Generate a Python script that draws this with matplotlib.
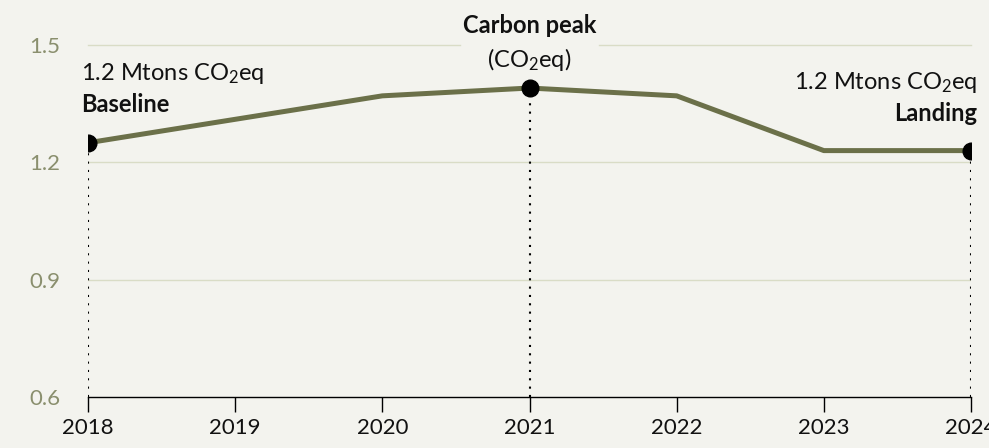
import matplotlib.pyplot as plt
from matplotlib import rcParams

years = [2018, 2019, 2020, 2021, 2022, 2023, 2024]
emissions = [1.25, 1.31, 1.37, 1.39, 1.37, 1.23, 1.23]
marked_years = [2018, 2021, 2024]
y_ticks = [0.6, 0.9, 1.2, 1.5]

BG = "#f3f3ee"
LINE = "#6b7049"
GRID = "#d9dcc6"
YLAB = "#8a8f6e"
INK = "#111111"

rcParams["font.family"] = ["Lato", "DejaVu Sans"]
rcParams["mathtext.fontset"] = "custom"
rcParams["mathtext.rm"] = "Lato"
rcParams["mathtext.it"] = "Lato:italic"
rcParams["mathtext.bf"] = "Lato:bold"


def main():
    fig = plt.figure(figsize=(9.89, 4.48), dpi=100, facecolor=BG)
    ax = fig.add_axes([88 / 989, 51 / 448, 883 / 989, 352 / 448])
    ax.set_facecolor(BG)

    ax.plot(years, emissions, color=LINE, linewidth=3.6, solid_capstyle="butt", zorder=3)

    # dotted drop lines and markers for the key years
    for yr in marked_years:
        val = emissions[years.index(yr)]
        ax.plot([yr, yr], [0.6, val], color="black", linestyle=(0, (1, 3)),
                linewidth=1.5, zorder=2)
        ax.plot([yr], [val], marker="o", markersize=12, color="black", zorder=4)

    ax.set_xlim(2018, 2024)
    ax.set_ylim(0.6, 1.5)
    ax.set_xticks(years)
    ax.set_xticklabels([str(y) for y in years])
    ax.set_yticks(y_ticks)
    ax.set_yticklabels([f"{v:.1f}" for v in y_ticks])

    for side in ["top", "right", "left"]:
        ax.spines[side].set_visible(False)
    ax.spines["bottom"].set_color("black")
    ax.spines["bottom"].set_linewidth(1)

    ax.tick_params(axis="x", length=11, width=1, color="black", labelsize=16,
                   labelcolor=INK, pad=4)
    ax.tick_params(axis="y", length=0, labelsize=16, labelcolor=YLAB, pad=20)

    co2 = r"1.2 Mtons CO$_\mathregular{2}$eq"
    ax.text(2017.95, 1.428, co2, fontsize=17, color=INK, ha="left", va="center")
    ax.text(2017.95, 1.349, "Baseline", fontsize=17, fontweight="bold", color=INK,
            ha="left", va="center")

    ax.text(2024.04, 1.405, co2, fontsize=17, color=INK, ha="right", va="center")
    ax.text(2024.04, 1.326, "Landing", fontsize=17, fontweight="bold", color=INK,
            ha="right", va="center")

    peak = ax.text(2021, 1.549, "Carbon peak", fontsize=17, fontweight="bold", color=INK,
                   ha="center", va="center", zorder=5, clip_on=False)
    ax.text(2021, 1.462, r"(CO$_\mathregular{2}$eq)", fontsize=17, color=INK,
            ha="center", va="center", zorder=5)

    # gridlines; the top one is broken where the peak title sits
    for v in y_ticks[1:-1]:
        ax.axhline(v, color=GRID, linewidth=1, zorder=1)
    fig.canvas.draw()
    bb = peak.get_window_extent().transformed(ax.transData.inverted())
    ax.plot([2018, bb.x0 - 0.02], [1.5, 1.5], color=GRID, linewidth=1, zorder=1, clip_on=False)
    ax.plot([bb.x1 + 0.02, 2024], [1.5, 1.5], color=GRID, linewidth=1, zorder=1, clip_on=False)

    fig.savefig("out.png", dpi=100, facecolor=BG)


if __name__ == "__main__":
    main()
